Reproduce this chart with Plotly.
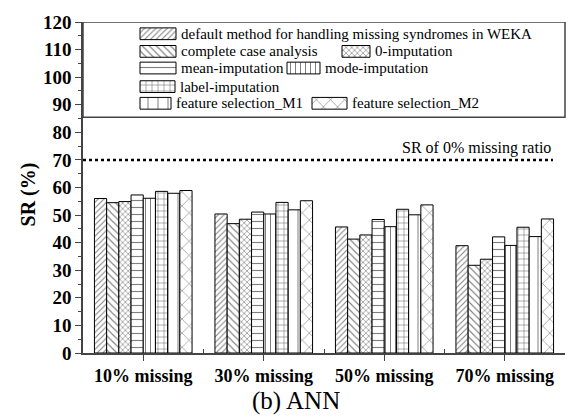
import plotly.graph_objects as go

# Success rate (%) of ANN for each missing-data strategy and missing ratio
categories = ["10% missing", "30% missing", "50% missing", "70% missing"]

methods = [
    "default method for handling missing syndromes in WEKA",
    "complete case analysis",
    "0-imputation",
    "mean-imputation",
    "mode-imputation",
    "label-imputation",
    "feature selection_M1",
    "feature selection_M2",
]

sr_default = [56.0, 50.4, 45.7, 38.9]
sr_complete = [54.5, 46.9, 41.3, 31.8]
sr_zero = [54.9, 48.5, 42.8, 34.0]
sr_mean = [57.3, 51.1, 48.4, 42.1]
sr_mode = [56.1, 50.4, 45.8, 39.0]
sr_label = [58.6, 54.6, 52.1, 45.6]
sr_fs_m1 = [57.9, 51.9, 50.1, 42.2]
sr_fs_m2 = [58.9, 55.2, 53.7, 48.6]

series = [sr_default, sr_complete, sr_zero, sr_mean,
          sr_mode, sr_label, sr_fs_m1, sr_fs_m2]

baseline_sr = 70  # SR at 0% missing ratio

# hatch style per method: (shape, size, solidity)
hatches = [
    ("/", 4, 0.25),
    ("\\", 5, 0.22),
    ("x", 4, 0.3),
    ("-", 7, 0.16),
    ("|", 5, 0.2),
    ("+", 6, 0.2),
    ("|", 10, 0.1),
    ("x", 10, 0.12),
]

SERIF = "Liberation Serif"

# plot-area geometry in pixels
L, R, T, B = 83, 565, 15, 353

fig = go.Figure()

for name, vals, (shp, sz, sol) in zip(methods, series, hatches):
    fig.add_trace(go.Bar(
        x=categories, y=vals, name=name, showlegend=False,
        marker=dict(color="white", line=dict(color="black", width=1),
                    pattern=dict(shape=shp, size=sz, solidity=sol,
                                 fgcolor="black", bgcolor="white",
                                 fillmode="overlay")),
    ))

# Hand-laid key: (left px, top px, width px) for each swatch in the box
key_boxes = [
    (140, 21, 36), (140, 39, 36), (342, 39, 28), (140, 56, 36),
    (287, 56, 33), (140, 75, 35), (140, 92, 31), (312, 92, 35),
]
KEY_H = 12
for name, (kx, ky, kw), (shp, sz, sol) in zip(methods, key_boxes, hatches):
    fig.add_trace(go.Bar(
        x=[kx], y=[KEY_H], base=[ky], width=[kw], offset=0,
        xaxis="x2", yaxis="y2", showlegend=False, hoverinfo="skip",
        marker=dict(color="white", line=dict(color="black", width=1),
                    pattern=dict(shape=shp, size=sz, solidity=sol,
                                 fgcolor="black", bgcolor="white",
                                 fillmode="overlay")),
    ))
    fig.add_annotation(
        x=kx + kw + 3, y=ky + KEY_H / 2, xref="x2", yref="y2",
        text=name, showarrow=False, xanchor="left", yanchor="middle",
        font=dict(family=SERIF, size=15, color="black"),
    )

# Key frame across the top of the plot
fig.add_shape(type="rect", xref="paper", yref="y", x0=0, x1=1, y0=85.5, y1=120,
              line=dict(color="#444", width=1.5), fillcolor="rgba(0,0,0,0)")

# 0% missing reference line
fig.add_shape(type="line", xref="paper", yref="y", x0=0, x1=0.975,
              y0=baseline_sr, y1=baseline_sr,
              line=dict(color="black", width=2.5, dash="dot"))
fig.add_annotation(x=0.975, y=baseline_sr, xref="paper", yref="y",
                   text="SR of 0% missing ratio", showarrow=False,
                   xanchor="right", yanchor="bottom", yshift=1,
                   font=dict(family=SERIF, size=16, color="black"))

# y-axis title
fig.add_annotation(x=(28 - L) / (R - L), y=0.479, xref="paper", yref="paper",
                   text="<b>SR (%)</b>", showarrow=False, textangle=-90,
                   xanchor="center", yanchor="middle",
                   font=dict(family=SERIF, size=20, color="black"))

fig.add_annotation(x=0.442, y=-0.145, xref="paper", yref="paper",
                   text="(b) ANN", showarrow=False, xanchor="center",
                   yanchor="middle",
                   font=dict(family=SERIF, size=25, color="black"))

group_edges = [L + i * (R - L) / len(categories) for i in range(len(categories) + 1)]

fig.update_layout(
    width=580, height=417,
    margin=dict(l=L, r=580 - R, t=T, b=417 - B),
    paper_bgcolor="white", plot_bgcolor="white",
    barmode="group", bargap=0.19, bargroupgap=0,
    xaxis=dict(
        showline=True, linecolor="#444", linewidth=1.5,
        ticks="outside", ticklen=6, tickcolor="#444", tickwidth=1.2,
        tickfont=dict(family=SERIF, size=18, color="black", weight="bold"),
        showgrid=False, zeroline=False,
    ),
    yaxis=dict(
        range=[0, 120], dtick=10, showline=True, linecolor="#444",
        linewidth=1.5, ticks="outside", ticklen=6, tickcolor="#444",
        tickwidth=1.2,
        minor=dict(dtick=5, ticks="outside", ticklen=3, tickcolor="#444"),
        tickfont=dict(family=SERIF, size=19, color="black", weight="bold"),
        showgrid=False, zeroline=False,
    ),
    xaxis2=dict(overlaying="x", range=[L, R], fixedrange=True,
                showticklabels=False, showline=False, showgrid=False,
                zeroline=False, tickmode="array", tickvals=group_edges,
                ticks="inside", ticklen=4, tickcolor="#444", tickwidth=1.2),
    yaxis2=dict(overlaying="y", range=[B, T], visible=False,
                fixedrange=True),
)

fig.write_html("out.html")
